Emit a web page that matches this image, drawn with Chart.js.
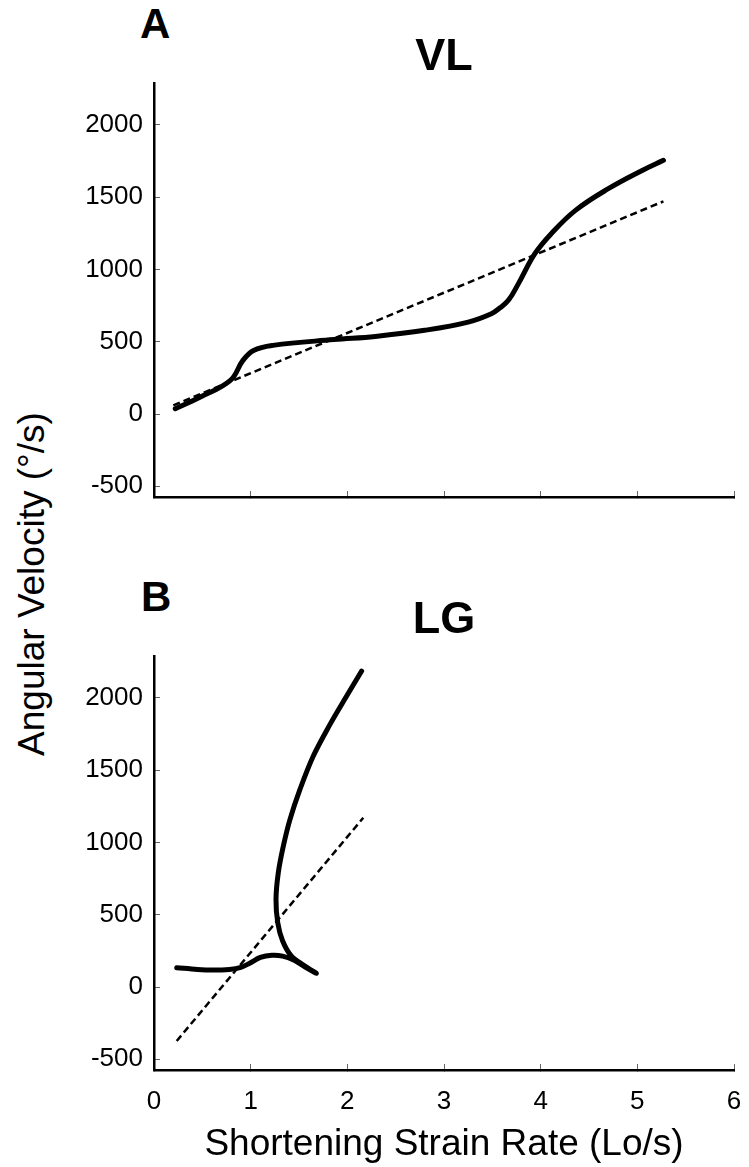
<!DOCTYPE html>
<html lang="en">
<head>
    <meta charset="UTF-8">
    <title>VL / LG strain rate vs angular velocity</title>
    <script src="https://cdn.jsdelivr.net/npm/chart.js"></script>
    <style>
        html, body {
            margin: 0;
            overflow: hidden;
            background-color: white;
            font-family: "Liberation Sans", Arial, sans-serif;
        }
        .page {
            position: relative;
            width: 749px;
            height: 1167px;
            overflow: hidden;
        }
        .panel {
            position: absolute;
            left: 0;
            width: 749px;
        }
        .letter {
            position: absolute;
            font-weight: bold;
            font-size: 42px;
            line-height: 42px;
            color: black;
        }
        .ytitle {
            position: absolute;
            left: 31px;
            top: 584px;
            transform: translate(-50%, -50%) rotate(-90deg);
            white-space: nowrap;
            font-size: 37px;
            line-height: 37px;
            color: black;
        }
    </style>
</head>
<body>
<div class="page">
    <div class="letter" style="left:140px; top:3px;">A</div>
    <div class="letter" style="left:141px; top:576px;">B</div>
    <div class="ytitle">Angular Velocity (°/s)</div>

    <div class="panel" style="top:0; height:540px;"><canvas id="vlChart"></canvas></div>
    <div class="panel" style="top:540px; height:627px;"><canvas id="lgChart"></canvas></div>
</div>

<script>
    // axis ticks
    const xTicks = [0, 1, 2, 3, 4, 5, 6];
    const yTicks = [-500, 0, 500, 1000, 1500, 2000];

    // VL panel (A)
    const vlSolidX = [0.22, 0.48, 0.79, 0.92, 1.03, 1.23, 1.86, 2.29, 2.80, 3.25, 3.49, 3.58, 3.67, 3.77, 3.94, 4.11, 4.36, 4.70, 5.05, 5.27];
    const vlSolidY = [37, 118, 233, 371, 440, 475, 515, 537, 579, 636, 694, 735, 790, 902, 1109, 1248, 1409, 1559, 1685, 1755];
    const vlFitX = [0.2, 5.27];
    const vlFitY = [60, 1471];

    // LG panel (B) - the trace runs out to the blob near 1.68 and turns back upward
    const lgSolidX = [0.235, 0.45, 0.61, 0.78, 0.89, 0.99, 1.10, 1.22, 1.33, 1.45, 1.56, 1.68,
                      1.55, 1.42, 1.33, 1.28, 1.262, 1.286, 1.338, 1.407, 1.51, 1.648, 1.821, 1.993, 2.148];
    const lgSolidY = [134, 122, 118, 122, 134, 165, 205, 220, 214, 185, 140, 95,
                      150, 215, 320, 445, 607, 791, 975, 1160, 1367, 1598, 1817, 2013, 2186];
    const lgFitX = [0.235, 2.165];
    const lgFitY = [-373, 1171];

    const FONT = '"Liberation Sans", Arial, sans-serif';

    function toPoints(xs, ys) {
        return xs.map((x, i) => ({ x: x, y: ys[i] }));
    }

    function makeChart(id, title, solidX, solidY, fitX, fitY, opts) {
        const ctx = document.getElementById(id).getContext('2d');
        return new Chart(ctx, {
            type: 'scatter',
            data: {
                datasets: [
                    {
                        label: 'measured',
                        data: toPoints(solidX, solidY),
                        showLine: true,
                        borderColor: '#000',
                        borderWidth: 5,
                        pointRadius: 0,
                        tension: opts.tension,
                        borderCapStyle: 'round',
                        borderJoinStyle: 'round'
                    },
                    {
                        label: 'fit',
                        data: toPoints(fitX, fitY),
                        showLine: true,
                        borderColor: '#000',
                        borderWidth: 2.5,
                        borderDash: [7, 4],
                        pointRadius: 0
                    }
                ]
            },
            options: {
                responsive: true,
                maintainAspectRatio: false,
                animation: false,
                layout: {
                    autoPadding: false,
                    padding: { left: 0, right: 15, top: 0, bottom: 0 }
                },
                plugins: {
                    legend: { display: false },
                    tooltip: { enabled: false },
                    title: {
                        display: true,
                        fullSize: false,
                        text: title,
                        color: '#000',
                        font: { family: FONT, size: 45, weight: 'bold', lineHeight: 1 },
                        padding: opts.titlePadding
                    }
                },
                scales: {
                    x: {
                        type: 'linear',
                        min: 0,
                        max: 6,
                        afterBuildTicks: s => { s.ticks = xTicks.map(v => ({ value: v })); },
                        afterFit: s => {
                            // labels sit low under the axis; don't let that padding squeeze the plot sideways
                            s.height = opts.xHeight;
                            s.paddingLeft = 0;
                            s.paddingRight = 0;
                        },
                        ticks: {
                            display: opts.showXLabels,
                            color: '#000',
                            padding: 22,
                            maxRotation: 0,
                            callback: v => String(v),
                            font: { family: FONT, size: 26 }
                        },
                        grid: {
                            drawOnChartArea: false,
                            drawTicks: true,
                            tickLength: -6,
                            color: '#666',
                            lineWidth: 1
                        },
                        border: { display: true, color: '#000', width: 2.5 },
                        title: {
                            display: opts.showXLabels,
                            text: 'Shortening Strain Rate (Lo/s)',
                            color: '#000',
                            font: { family: FONT, size: 37 },
                            padding: { top: 0, bottom: 0 }
                        }
                    },
                    y: {
                        type: 'linear',
                        min: -574,
                        max: 2290,
                        afterBuildTicks: s => { s.ticks = yTicks.map(v => ({ value: v })); },
                        afterFit: s => { s.width = 154; },
                        ticks: {
                            color: '#000',
                            padding: 17,
                            callback: v => String(v),
                            font: { family: FONT, size: 26 }
                        },
                        grid: {
                            drawOnChartArea: false,
                            drawTicks: true,
                            tickLength: -6,
                            color: '#666',
                            lineWidth: 1
                        },
                        border: { display: true, color: '#000', width: 2.5 }
                    }
                }
            }
        });
    }

    makeChart('vlChart', 'VL', vlSolidX, vlSolidY, vlFitX, vlFitY, {
        titlePadding: { top: 35.5, bottom: 2.5 },
        xHeight: 43,
        showXLabels: false,
        tension: 0.4
    });

    makeChart('lgChart', 'LG', lgSolidX, lgSolidY, lgFitX, lgFitY, {
        titlePadding: { top: 58.5, bottom: 12.5 },
        xHeight: 97,
        showXLabels: true,
        tension: 0.35
    });
</script>
</body>
</html>
